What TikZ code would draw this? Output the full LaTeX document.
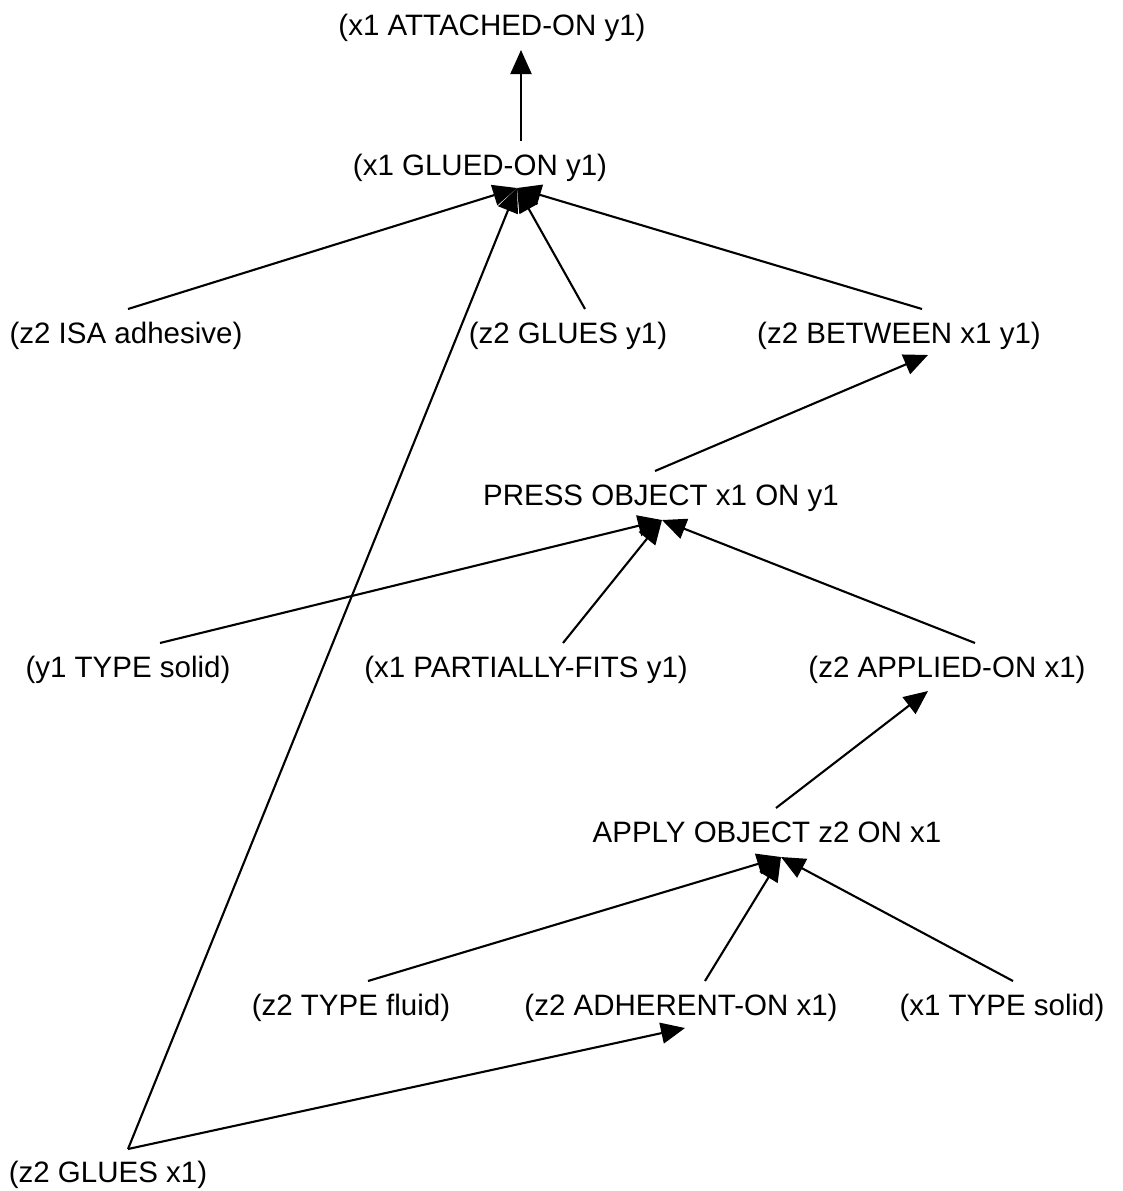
\documentclass[tikz,border=0pt]{standalone}
\usepackage{fontspec}
\setmainfont{Liberation Sans}
\usetikzlibrary{arrows.meta,calc}
\begin{document}
\begin{tikzpicture}[x=1pt,y=-1pt,
  fact/.style={inner sep=0pt, anchor=base, font=\fontsize{29.5}{34}\selectfont},
  link/.style={line width=2.1pt},
  arc/.style={link, -{Triangle[length=24pt,width=21pt]}},
]
\useasboundingbox (0,0) rectangle (1122,1191);

% facts and actions
\node[fact] (att) at (492,35)   {(x1 ATTACHED-ON y1)};
\node[fact] (glu) at (480,175)  {(x1 GLUED-ON y1)};
\node[fact] (isa) at (126,343)  {(z2 ISA adhesive)};
\node[fact] (gy1) at (568,343)  {(z2 GLUES y1)};
\node[fact] (btw) at (899,343)  {(z2 BETWEEN x1 y1)};
\node[fact] (prs) at (661,505)  {PRESS OBJECT x1 ON y1};
\node[fact] (ys)  at (128,677)  {(y1 TYPE solid)};
\node[fact] (pf)  at (526,677)  {(x1 PARTIALLY-FITS y1)};
\node[fact] (apo) at (947,677)  {(z2 APPLIED-ON x1)};
\node[fact] (apl) at (767,842)  {APPLY OBJECT z2 ON x1};
\node[fact] (tf)  at (351,1015) {(z2 TYPE fluid)};
\node[fact] (adh) at (681,1015) {(z2 ADHERENT-ON x1)};
\node[fact] (xs)  at (1002,1015){(x1 TYPE solid)};
\node[fact] (gx1) at (108,1182) {(z2 GLUES x1)};

% links
\draw[arc] ($(glu.base)+(41,-34)$) -- ($(att.base)+(29,15)$);

\draw[arc] ($(isa.base)+(2,-34)$)  -- ($(glu.base)+(37,13)$);
\draw[arc] ($(gy1.base)+(17,-34)$) -- ($(glu.base)+(37,13)$);
\draw[arc] ($(btw.base)+(23,-34)$) -- ($(glu.base)+(37,13)$);
\draw[arc] ($(gx1.base)+(20,-33)$) -- ($(glu.base)+(37,13)$);
\draw[arc] ($(gx1.base)+(20,-33)$) -- ($(adh.base)+(4,13)$);

\draw[arc] ($(prs.base)+(-6,-34)$) -- ($(btw.base)+(29,12)$);
\draw[arc] ($(ys.base)+(32,-34)$)  -- ($(prs.base)+(1,15)$);
\draw[arc] ($(pf.base)+(37,-34)$)  -- ($(prs.base)+(1,15)$);
\draw[arc] ($(apo.base)+(28,-34)$) -- ($(prs.base)+(1,15)$);

\draw[arc] ($(apl.base)+(9,-34)$)  -- ($(apo.base)+(-19,14)$);
\draw[arc] ($(tf.base)+(17,-34)$)  -- ($(apl.base)+(14,15)$);
\draw[arc] ($(adh.base)+(24,-34)$) -- ($(apl.base)+(14,15)$);
\draw[arc] ($(xs.base)+(11,-34)$)  -- ($(apl.base)+(14,15)$);
\end{tikzpicture}
\end{document}
